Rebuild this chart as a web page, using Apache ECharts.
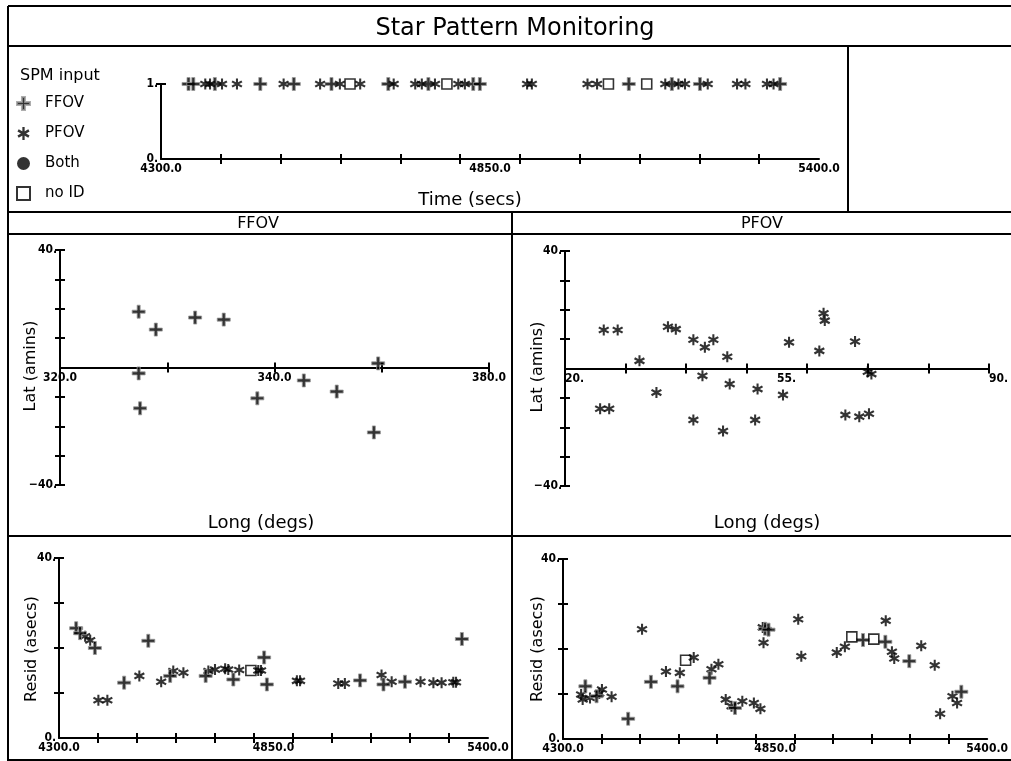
<!DOCTYPE html>
<html><head><meta charset="utf-8">
<script src="https://cdn.jsdelivr.net/npm/echarts@6/dist/echarts.min.js"></script>
<style>html,body{margin:0;padding:0;background:#fff}#c{width:1011px;height:761px}</style>
</head><body><div id="c"></div>
<script>
// ---------------- DATA ----------------
// Top panel: SPM input events (all at value 1)
const topFfovTimes = [4346, 4354, 4390, 4466, 4522, 4585, 4680, 4747, 4822, 4833, 5082, 5154, 5201, 5335];
const topPfovTimes = [4374, 4382, 4402, 4427, 4505, 4566, 4599, 4633, 4689, 4725, 4736, 4758, 4797, 4808, 4912, 4920, 5013, 5029, 5143, 5165, 5176, 5214, 5263, 5277, 5313, 5324];
const topNoIdTimes = [4616, 4778, 5048, 5112];

// FFOV panel (Long degs vs Lat amins)
const ffovLong = [331.0, 333.4, 338.9, 342.9, 331.0, 331.2, 347.6, 354.1, 358.7, 364.5, 363.9];
const ffovLat  = [19.0, 12.9, 17.0, 16.3, -2.0, -13.9, -10.5, -4.4, -8.2, 1.4, -22.1];

// PFOV panel
const pfovLong = [26.4, 28.7, 32.3, 35.1, 37.0, 38.3, 41.2, 42.7, 43.1, 44.5, 46.8, 47.2, 41.2, 46.1, 51.8, 51.4, 56.0, 57.0, 62.0, 62.7, 62.9, 67.9, 70.0, 70.6, 66.3, 68.6, 70.2, 25.8, 27.3];
const pfovLat  = [13.1, 13.1, 2.6, -8.2, 14.2, 13.4, 9.8, -2.5, 7.2, 9.8, 4.0, -5.3, -17.5, -21.3, -7.0, -17.5, -9.0, 8.9, 6.0, 18.8, 16.3, 9.2, -1.1, -1.9, -15.8, -16.4, -15.4, -13.7, -13.7];

// Bottom-left residuals
const blFfovT = [4344, 4354, 4392, 4467, 4529, 4585, 4676, 4747, 4826, 4833, 5072, 5132, 5187, 5333];
const blFfovR = [24.4, 23.3, 20.0, 12.3, 21.6, 13.8, 13.8, 13.0, 17.9, 11.9, 12.8, 11.9, 12.5, 22.0];
const blPfovT = [4367, 4380, 4401, 4424, 4506, 4562, 4593, 4619, 4683, 4700, 4726, 4734, 4762, 4811, 4818, 4910, 4918, 5016, 5033, 5127, 5153, 5227, 5260, 5281, 5311, 5318];
const blPfovR = [22.6, 21.7, 8.4, 8.4, 13.8, 12.5, 14.9, 14.5, 14.9, 15.2, 15.4, 15.2, 15.1, 15.0, 15.0, 12.7, 12.7, 12.1, 12.1, 14.0, 12.5, 12.5, 12.3, 12.3, 12.4, 12.4];
const blNoIdT = [4792];
const blNoIdR = [15.0];

// Bottom-right residuals
const brFfovT = [4358, 4387, 4469, 4528, 4597, 4680, 4746, 4824, 4833, 5078, 5136, 5198, 5333];
const brFfovR = [11.7, 9.5, 4.5, 12.7, 11.7, 13.6, 6.9, 24.5, 24.3, 22.0, 21.6, 17.3, 10.5];
const brPfovT = [4347, 4351, 4370, 4394, 4401, 4426, 4505, 4567, 4603, 4639, 4685, 4703, 4722, 4737, 4765, 4795, 4812, 4818, 4820, 4910, 4918, 5010, 5031, 5137, 5153, 5159, 5229, 5264, 5278, 5310, 5322];
const brPfovR = [9.9, 8.8, 9.1, 10.1, 11.0, 9.4, 24.4, 15.0, 14.7, 18.1, 15.5, 16.6, 8.8, 7.3, 8.4, 8.0, 6.7, 24.8, 21.4, 26.6, 18.4, 19.2, 20.5, 26.3, 19.4, 17.9, 20.7, 16.4, 5.6, 9.5, 8.0];
const brNoIdT = [4618, 5049, 5106];
const brNoIdR = [17.5, 22.7, 22.2];

// Tick / label arrays
const timeTicks = [4400, 4500, 4600, 4700, 4800, 4900, 5000, 5100, 5200, 5300];
const timeLabelPos = [4300, 4850, 5400];
const timeLabelText = ['4300.0', '4850.0', '5400.0'];
const ffovXTicks = [335, 350, 365, 380];
const ffovXLabelPos = [320, 350, 380];
const ffovXLabelText = ['320.0', '340.0', '380.0'];
const pfovXTicks = [30, 40, 50, 60, 70, 80, 90];
const pfovXLabelPos = [20, 55, 90];
const pfovXLabelText = ['20.', '55.', '90.'];
const latTicks = [-40, -30, -20, -10, 10, 20, 30, 40];
const latLabelPos = [-40, 40];
const latLabelText = ['\u221240.', '40.'];
const residTicks = [10, 20, 30, 40];
const residLabelPos = [0, 40];
const residLabelText = ['0.', '40.'];
const spmTicks = [1];
const spmLabelPos = [0, 1];
const spmLabelText = ['0.', '1.'];

// ---------------- STYLE ----------------
const FONT = "'DejaVu Sans', sans-serif";
const NUMFONT = "'DejaVu Sans Condensed', 'DejaVu Sans', sans-serif";
const PLUS = 'path://M4.6,0H7.4V4.6H12V7.4H7.4V12H4.6V7.4H0V4.6H4.6Z';
const STAR = 'path://M5,0.3H7V11.7H5Z' +
  'M0.687,4.202L1.787,2.298L11.313,7.798L10.213,9.702Z' +
  'M1.787,9.702L0.687,7.798L10.213,2.298L11.313,4.202Z';

function mapLabel(pos, text) {
  return v => { const i = pos.indexOf(Math.round(v * 1000) / 1000); return i >= 0 ? text[i] : ''; };
}

// offset moves the x axis up to the zero line in the Lat panels
function axisPair(dim, grid, min, max, ticks, lpos, ltext, align, offset) {
  const position = dim === 'x' ? 'bottom' : 'left';
  const common = { type: 'value', gridIndex: grid, min, max, position, offset: offset || 0, splitLine: { show: false } };
  const main = Object.assign({}, common, {
    axisLine: { show: true, onZero: false, lineStyle: { color: '#000', width: 2 } },
    axisTick: { show: true, customValues: ticks, length: 5, lineStyle: { color: '#000', width: 2 } },
    axisLabel: { show: true, customValues: lpos, formatter: mapLabel(lpos, ltext), color: '#000',
      fontFamily: NUMFONT, fontWeight: 'bold', fontSize: 12, margin: dim === 'x' ? 4 : 3, align: align }
  });
  const inner = Object.assign({}, common, {
    axisLine: { show: false, onZero: false },
    axisTick: { show: true, inside: true, customValues: ticks, length: 5, lineStyle: { color: '#000', width: 2 } },
    axisLabel: { show: false }
  });
  return [main, inner];
}

const grids = [
  { left: 161, top: 84, width: 658, height: 75 },
  { left: 60, top: 250, width: 429, height: 235 },
  { left: 565, top: 251, width: 429, height: 235 },
  { left: 59, top: 558, width: 429, height: 180 },
  { left: 563, top: 559, width: 430, height: 180 }
];

const xAxes = [].concat(
  axisPair('x', 0, 4300, 5400, timeTicks, timeLabelPos, timeLabelText),
  axisPair('x', 1, 320, 380, ffovXTicks, ffovXLabelPos, ffovXLabelText, undefined, -117.5),
  axisPair('x', 2, 20, 90, pfovXTicks, pfovXLabelPos, pfovXLabelText, 'left', -117.5),
  axisPair('x', 3, 4300, 5400, timeTicks, timeLabelPos, timeLabelText),
  axisPair('x', 4, 4300, 5400, timeTicks, timeLabelPos, timeLabelText)
);
const yAxes = [].concat(
  axisPair('y', 0, 0, 1, spmTicks, spmLabelPos, spmLabelText),
  axisPair('y', 1, -40, 40, latTicks, latLabelPos, latLabelText),
  axisPair('y', 2, -40, 40, latTicks, latLabelPos, latLabelText),
  axisPair('y', 3, 0, 40, residTicks, residLabelPos, residLabelText),
  axisPair('y', 4, 0, 40, residTicks, residLabelPos, residLabelText)
);

const plusStyle = { color: '#000', borderColor: '#9a9a9a', borderWidth: 1 };
const starStyle = { color: '#000' };
const boxStyle = { color: 'rgba(255,255,255,0)', borderColor: '#000', borderWidth: 1.6 };

function zip(a, b) { return a.map((v, i) => [v, b[i]]); }
function ones(a) { return a.map(v => [v, 1]); }

function sc(name, g, data, kind) {
  const s = { type: 'scatter', name, xAxisIndex: 2 * g, yAxisIndex: 2 * g, data, silent: true, z: 5 };
  if (kind === 'plus') { s.symbol = PLUS; s.symbolSize = 13; s.itemStyle = plusStyle; }
  else if (kind === 'star') { s.symbol = STAR; s.symbolSize = 11; s.itemStyle = starStyle; }
  else { s.symbol = 'rect'; s.symbolSize = 10; s.itemStyle = boxStyle; }
  return s;
}

const series = [
  sc('FFOV', 0, ones(topFfovTimes), 'plus'),
  sc('PFOV', 0, ones(topPfovTimes), 'star'),
  sc('no ID', 0, ones(topNoIdTimes), 'box'),
  { type: 'scatter', name: 'Both', xAxisIndex: 0, yAxisIndex: 0, data: [], symbol: 'circle', symbolSize: 13, itemStyle: { color: '#000' } },
  sc('FFOV', 1, zip(ffovLong, ffovLat), 'plus'),
  sc('PFOV', 2, zip(pfovLong, pfovLat), 'star'),
  sc('PFOV', 3, zip(blPfovT, blPfovR), 'star'),
  sc('FFOV', 3, zip(blFfovT, blFfovR), 'plus'),
  sc('no ID', 3, zip(blNoIdT, blNoIdR), 'box'),
  sc('PFOV', 4, zip(brPfovT, brPfovR), 'star'),
  sc('FFOV', 4, zip(brFfovT, brFfovR), 'plus'),
  sc('no ID', 4, zip(brNoIdT, brNoIdR), 'box')
];

function ln(x1, y1, x2, y2) {
  return { type: 'line', shape: { x1, y1, x2, y2 }, style: { stroke: '#000', lineWidth: 2 }, silent: true };
}
function tx(text, x, y, size, rot, align) {
  return { type: 'text', x, y, rotation: rot || 0, silent: true,
    style: { text, font: size + 'px ' + FONT, fill: '#000', align: align || 'center', verticalAlign: 'middle' } };
}

const graphic = [
  ln(8, 6, 1011, 6),
  ln(8, 6, 8, 761),
  ln(8, 46, 1011, 46),
  ln(848, 46, 848, 212),
  ln(8, 212, 1011, 212),
  ln(8, 234, 1011, 234),
  ln(512, 212, 512, 761),
  ln(8, 536, 1011, 536),
  ln(8, 760, 1011, 760),
  tx('Star Pattern Monitoring', 515, 29, 24),
  tx('SPM input', 20, 76, 16, 0, 'left'),
  tx('Time (secs)', 470, 200, 18),
  tx('FFOV', 258, 224, 16),
  tx('PFOV', 762, 224, 16),
  tx('Long (degs)', 261, 523, 18),
  tx('Long (degs)', 767, 523, 18),
  tx('Lat (amins)', 31, 366, 16, Math.PI / 2),
  tx('Lat (amins)', 538, 367, 16, Math.PI / 2),
  tx('Resid (asecs)', 32, 649, 16, Math.PI / 2),
  tx('Resid (asecs)', 538, 649, 16, Math.PI / 2)
];

const chart = echarts.init(document.getElementById('c'), null, { renderer: 'canvas' });
chart.setOption({
  animation: false,
  backgroundColor: '#fff',
  grid: grids,
  xAxis: xAxes,
  yAxis: yAxes,
  legend: {
    orient: 'vertical', left: 16, top: 96, padding: 0, itemWidth: 13, itemHeight: 13, itemGap: 15,
    selectedMode: false, data: ['FFOV', 'PFOV', 'Both', 'no ID'],
    textStyle: { fontFamily: FONT, fontSize: 15, color: '#000', padding: [0, 0, 0, 10] }
  },
  series,
  graphic
});
</script>
</body></html>
